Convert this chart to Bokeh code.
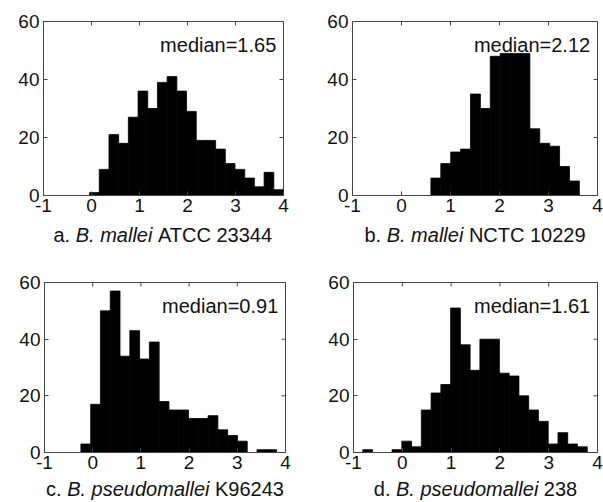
from bokeh.plotting import figure
from bokeh.models import Range1d, FixedTicker, Label
from bokeh.layouts import column, row
from bokeh.embed import file_html
from bokeh.resources import INLINE

# ---- data ----
x_ticks = [-1, 0, 1, 2, 3, 4]
y_ticks = [0, 20, 40, 60]

a_start, a_width = -0.04, 0.202
a_counts = [1, 9, 21, 18, 27, 36, 30, 39, 41, 36, 29, 19, 19, 16, 11, 9, 6, 3, 8, 2]
a_median = "median=1.65"
a_caption = ["a.", "B. mallei", "ATCC 23344"]

b_start, b_width = 0.6, 0.202
b_counts = [6, 11, 15, 16, 35, 30, 48, 49, 49, 49, 23, 18, 17, 10, 5]
b_median = "median=2.12"
b_caption = ["b.", "B. mallei", "NCTC 10229"]

c_start, c_width = -0.245, 0.203
c_counts = [3, 17, 50, 57, 34, 43, 33, 39, 18, 15, 15, 12, 12, 13, 8, 6, 4, 0, 1, 1]
c_median = "median=0.91"
c_caption = ["c.", "B. pseudomallei", "K96243"]

d_start, d_width = -0.81, 0.2
d_counts = [1, 0, 0, 1, 4, 2, 15, 21, 24, 51, 38, 29, 40, 40, 28, 27, 20, 15, 11, 3, 7, 3, 2]
d_median = "median=1.61"
d_caption = ["d.", "B. pseudomallei", "238"]

FONT = "Liberation Sans"
FS = 20
TFS = 19
TXT = "#111111"
EDGE = "#444444"
TICK = 4

# Arial / Liberation Sans advance widths (per 1000 em) for caption layout
CW = {'a': 556, 'b': 556, 'c': 500, 'd': 556, 'e': 556, 'i': 222, 'l': 222,
      'm': 833, 'o': 556, 'p': 556, 's': 500, 'u': 556, ' ': 278, '.': 278,
      'A': 667, 'B': 667, 'C': 722, 'K': 667, 'N': 722, 'T': 611}


def text_w(s, fs=FS):
    return sum(CW.get(ch, 556) for ch in s) * fs / 1000.0


def panel(start, width, counts, median, fw, fh, bl, br, bt, bb):
    p = figure(width=bl + fw + br, height=bt + fh + bb,
               x_range=Range1d(-1, 4), y_range=Range1d(0, 60),
               output_backend="svg", toolbar_location=None,
               min_border_left=bl, min_border_right=br,
               min_border_top=bt, min_border_bottom=bb)
    p.xgrid.visible = False
    p.ygrid.visible = False
    p.outline_line_color = EDGE
    p.outline_line_width = 1
    p.background_fill_color = "white"
    p.border_fill_color = "white"

    lefts = [start + i * width for i in range(len(counts))]
    rights = [l + width for l in lefts]
    p.quad(left=lefts, right=rights, bottom=0, top=counts,
           fill_color="black", line_color="black", line_width=0.8)

    # mirrored inward ticks on the top and right edges of the box
    dy = TICK * 60.0 / fh
    p.segment(x0=x_ticks, y0=[60.0] * len(x_ticks), x1=x_ticks,
              y1=[60.0 - dy] * len(x_ticks), line_color=EDGE, line_width=1)
    dx = TICK * 5.0 / fw
    p.segment(x0=[4.0] * len(y_ticks), y0=y_ticks, x1=[4.0 - dx] * len(y_ticks),
              y1=y_ticks, line_color=EDGE, line_width=1)

    p.xaxis.ticker = FixedTicker(ticks=x_ticks)
    p.xaxis.major_label_overrides = {t: str(t) for t in x_ticks}
    p.xaxis.major_label_standoff = 3
    p.yaxis.ticker = FixedTicker(ticks=y_ticks)
    p.yaxis.major_label_overrides = {t: str(t) for t in y_ticks}
    p.yaxis.major_label_standoff = 4
    for ax in p.xaxis + p.yaxis:
        ax.major_tick_in = TICK
        ax.major_tick_out = 0
        ax.minor_tick_line_color = None
        ax.axis_line_color = EDGE
        ax.major_tick_line_color = EDGE
        ax.major_label_text_font = FONT
        ax.major_label_text_font_size = f"{TFS}px"
        ax.major_label_text_color = TXT

    p.add_layout(Label(x=3.85, y=51.8, text=median, text_align="right",
                       text_baseline="middle", text_font=FONT,
                       text_font_size=f"{FS}px", text_color=TXT))
    return p


def caption_fig(parts, width, height, cx, mid_from_bottom):
    c = figure(width=width, height=height,
               x_range=Range1d(0, width), y_range=Range1d(0, height),
               output_backend="svg", toolbar_location=None,
               x_axis_location=None, y_axis_location=None,
               min_border_left=0, min_border_right=0,
               min_border_top=0, min_border_bottom=0)
    c.xgrid.visible = False
    c.ygrid.visible = False
    c.outline_line_color = None
    gap = text_w(" ")
    widths = [text_w(s) for s in parts]
    x0 = cx - (sum(widths) + gap * (len(parts) - 1)) / 2.0
    styles = ["normal", "italic", "normal"]
    acc = 0.0
    for s, w, st in zip(parts, widths, styles):
        c.add_layout(Label(x=x0 + acc, y=mid_from_bottom, text=s,
                           text_align="left", text_baseline="middle",
                           text_font=FONT, text_font_style=st,
                           text_font_size=f"{FS}px", text_color=TXT))
        acc += w + gap
    return c


pa = panel(a_start, a_width, a_counts, a_median, fw=240, fh=174, bl=43, br=17, bt=21, bb=27)
pb = panel(b_start, b_width, b_counts, b_median, fw=245, fh=177, bl=52, br=6, bt=19, bb=26)
pc = panel(c_start, c_width, c_counts, c_median, fw=241, fh=170, bl=44, br=15, bt=34, bb=25)
pd = panel(d_start, d_width, d_counts, d_median, fw=244, fh=170, bl=53, br=6, bt=34, bb=25)

ca = caption_fig(a_caption, 300, 26, 43 + 120, 14)
cb = caption_fig(b_caption, 303, 26, 52 + 122.5, 14)
cc = caption_fig(c_caption, 300, 25, 44 + 120.5, 14)
cd = caption_fig(d_caption, 303, 25, 53 + 122, 14)

layout = column(row(pa, pb), row(ca, cb), row(pc, pd), row(cc, cd))
open("out.html", "w").write(file_html(layout, INLINE))
